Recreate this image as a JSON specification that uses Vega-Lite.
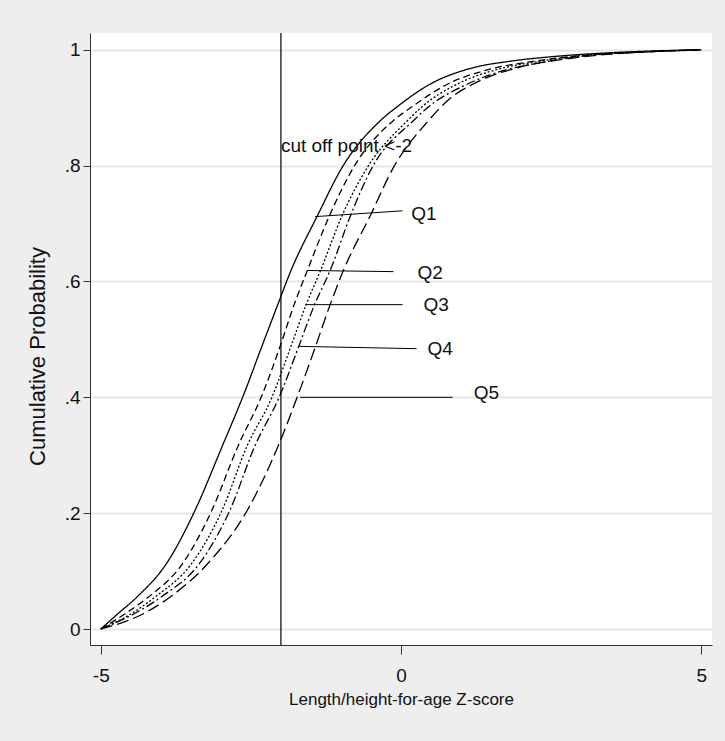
{
  "$schema": "https://vega.github.io/schema/vega-lite/v6.json",
  "width": 622,
  "height": 612,
  "autosize": {"type": "none"},
  "padding": {"left": 90, "top": 33, "right": 13, "bottom": 96},
  "background": "#eeeeee",
  "config": {
    "view": {"fill": "white", "stroke": null},
    "font": "Liberation Sans, Arial",
    "axis": {
      "domainColor": "#333333",
      "tickColor": "#333333",
      "labelColor": "#111111",
      "titleColor": "#111111",
      "labelFont": "Liberation Sans, Arial",
      "titleFont": "Liberation Sans, Arial",
      "labelFontSize": 19,
      "titleFontSize": 17,
      "titleFontWeight": "normal"
    }
  },
  "datasets": {
    "curves": [
      {"q": "Q1", "z": -5.0, "p": 0.0},
      {"q": "Q1", "z": -4.72, "p": 0.026},
      {"q": "Q1", "z": -4.4, "p": 0.055},
      {"q": "Q1", "z": -3.9, "p": 0.114},
      {"q": "Q1", "z": -3.43, "p": 0.205},
      {"q": "Q1", "z": -2.98, "p": 0.315},
      {"q": "Q1", "z": -2.6, "p": 0.41},
      {"q": "Q1", "z": -2.35, "p": 0.479},
      {"q": "Q1", "z": -2.06, "p": 0.558},
      {"q": "Q1", "z": -1.84, "p": 0.617},
      {"q": "Q1", "z": -1.39, "p": 0.714},
      {"q": "Q1", "z": -0.98, "p": 0.797},
      {"q": "Q1", "z": -0.34, "p": 0.878},
      {"q": "Q1", "z": -0.06, "p": 0.902},
      {"q": "Q1", "z": 0.49, "p": 0.941},
      {"q": "Q1", "z": 1.16, "p": 0.968},
      {"q": "Q1", "z": 1.8, "p": 0.98},
      {"q": "Q1", "z": 2.5, "p": 0.988},
      {"q": "Q1", "z": 3.5, "p": 0.995},
      {"q": "Q1", "z": 5.0, "p": 1.0},

      {"q": "Q2", "z": -5.0, "p": 0.0},
      {"q": "Q2", "z": -4.6, "p": 0.026},
      {"q": "Q2", "z": -4.21, "p": 0.055},
      {"q": "Q2", "z": -3.63, "p": 0.114},
      {"q": "Q2", "z": -3.15, "p": 0.205},
      {"q": "Q2", "z": -2.71, "p": 0.317},
      {"q": "Q2", "z": -2.33, "p": 0.4},
      {"q": "Q2", "z": -2.02, "p": 0.486},
      {"q": "Q2", "z": -1.78, "p": 0.56},
      {"q": "Q2", "z": -1.56, "p": 0.619},
      {"q": "Q2", "z": -1.19, "p": 0.714},
      {"q": "Q2", "z": -0.79, "p": 0.797},
      {"q": "Q2", "z": -0.125, "p": 0.878},
      {"q": "Q2", "z": 0.16, "p": 0.9},
      {"q": "Q2", "z": 0.78, "p": 0.941},
      {"q": "Q2", "z": 1.5, "p": 0.967},
      {"q": "Q2", "z": 2.2, "p": 0.98},
      {"q": "Q2", "z": 3.0, "p": 0.99},
      {"q": "Q2", "z": 4.0, "p": 0.996},
      {"q": "Q2", "z": 5.0, "p": 1.0},

      {"q": "Q3", "z": -5.0, "p": 0.0},
      {"q": "Q3", "z": -4.5, "p": 0.026},
      {"q": "Q3", "z": -4.1, "p": 0.055},
      {"q": "Q3", "z": -3.48, "p": 0.114},
      {"q": "Q3", "z": -2.98, "p": 0.205},
      {"q": "Q3", "z": -2.56, "p": 0.317},
      {"q": "Q3", "z": -2.15, "p": 0.4},
      {"q": "Q3", "z": -1.84, "p": 0.486},
      {"q": "Q3", "z": -1.58, "p": 0.56},
      {"q": "Q3", "z": -1.34, "p": 0.619},
      {"q": "Q3", "z": -0.98, "p": 0.714},
      {"q": "Q3", "z": -0.56, "p": 0.797},
      {"q": "Q3", "z": 0.11, "p": 0.878},
      {"q": "Q3", "z": 0.33, "p": 0.9},
      {"q": "Q3", "z": 0.94, "p": 0.941},
      {"q": "Q3", "z": 1.6, "p": 0.966},
      {"q": "Q3", "z": 2.3, "p": 0.98},
      {"q": "Q3", "z": 3.0, "p": 0.99},
      {"q": "Q3", "z": 4.0, "p": 0.996},
      {"q": "Q3", "z": 5.0, "p": 1.0},

      {"q": "Q4", "z": -5.0, "p": 0.0},
      {"q": "Q4", "z": -4.45, "p": 0.026},
      {"q": "Q4", "z": -4.0, "p": 0.055},
      {"q": "Q4", "z": -3.35, "p": 0.114},
      {"q": "Q4", "z": -2.85, "p": 0.205},
      {"q": "Q4", "z": -2.43, "p": 0.317},
      {"q": "Q4", "z": -2.03, "p": 0.4},
      {"q": "Q4", "z": -1.71, "p": 0.486},
      {"q": "Q4", "z": -1.44, "p": 0.56},
      {"q": "Q4", "z": -1.18, "p": 0.619},
      {"q": "Q4", "z": -0.84, "p": 0.714},
      {"q": "Q4", "z": -0.48, "p": 0.797},
      {"q": "Q4", "z": 0.21, "p": 0.878},
      {"q": "Q4", "z": 0.44, "p": 0.9},
      {"q": "Q4", "z": 1.11, "p": 0.941},
      {"q": "Q4", "z": 1.7, "p": 0.964},
      {"q": "Q4", "z": 2.4, "p": 0.979},
      {"q": "Q4", "z": 3.1, "p": 0.99},
      {"q": "Q4", "z": 4.0, "p": 0.996},
      {"q": "Q4", "z": 5.0, "p": 1.0},

      {"q": "Q5", "z": -5.0, "p": 0.0},
      {"q": "Q5", "z": -4.3, "p": 0.026},
      {"q": "Q5", "z": -3.85, "p": 0.055},
      {"q": "Q5", "z": -3.21, "p": 0.114},
      {"q": "Q5", "z": -2.56, "p": 0.205},
      {"q": "Q5", "z": -2.03, "p": 0.32},
      {"q": "Q5", "z": -1.73, "p": 0.4},
      {"q": "Q5", "z": -1.43, "p": 0.486},
      {"q": "Q5", "z": -1.18, "p": 0.56},
      {"q": "Q5", "z": -0.96, "p": 0.619},
      {"q": "Q5", "z": -0.51, "p": 0.714},
      {"q": "Q5", "z": -0.125, "p": 0.797},
      {"q": "Q5", "z": 0.46, "p": 0.878},
      {"q": "Q5", "z": 0.75, "p": 0.91},
      {"q": "Q5", "z": 1.28, "p": 0.945},
      {"q": "Q5", "z": 1.94, "p": 0.969},
      {"q": "Q5", "z": 2.8, "p": 0.985},
      {"q": "Q5", "z": 3.8, "p": 0.995},
      {"q": "Q5", "z": 5.0, "p": 1.0}
    ],
    "labels": [
      {"q": "Q1", "x0": -1.43, "y0": 0.712, "x1": 0.025, "y1": 0.722, "tx": 0.17, "ty": 0.716},
      {"q": "Q2", "x0": -1.56, "y0": 0.619, "x1": -0.125, "y1": 0.617, "tx": 0.275, "ty": 0.614},
      {"q": "Q3", "x0": -1.59, "y0": 0.56, "x1": 0.025, "y1": 0.56, "tx": 0.375, "ty": 0.559},
      {"q": "Q4", "x0": -1.71, "y0": 0.488, "x1": 0.26, "y1": 0.484, "tx": 0.44, "ty": 0.483},
      {"q": "Q5", "x0": -1.68, "y0": 0.4, "x1": 0.86, "y1": 0.4, "tx": 1.21, "ty": 0.407}
    ],
    "cutoff": [
      {"z": -2, "p": 0.834, "label": "cut off point <-2"}
    ]
  },
  "layer": [
    {
      "data": {"name": "curves"},
      "mark": {"type": "line", "color": "black", "strokeWidth": 1.3, "interpolate": "monotone"},
      "encoding": {
        "x": {
          "field": "z", "type": "quantitative",
          "scale": {"domain": [-5.18, 5.18], "nice": false, "zero": false},
          "axis": {"values": [-5, 0, 5], "labelExpr": "'' + datum.value", "grid": false, "tickSize": 9, "labelPadding": 12, "title": "Length/height-for-age Z-score", "titlePadding": 6}
        },
        "y": {
          "field": "p", "type": "quantitative",
          "scale": {"domain": [-0.0276, 1.029], "nice": false, "zero": false},
          "axis": {
            "values": [0, 0.2, 0.4, 0.6, 0.8, 1],
            "labelExpr": "datum.value == 0 ? '0' : datum.value == 1 ? '1' : replace(format(datum.value, '.1f'), '0.', '.')",
            "grid": true, "gridColor": "#e6e6e6", "gridWidth": 2,
            "tickSize": 7, "labelPadding": 3,
            "title": "Cumulative Probability", "titleFontSize": 22,
            "titleX": -53, "titleY": 323, "titleAngle": -90, "titleAlign": "center", "titleBaseline": "middle"
          }
        },
        "strokeDash": {
          "field": "q", "type": "nominal",
          "scale": {"domain": ["Q1", "Q2", "Q3", "Q4", "Q5"], "range": [[1, 0], [7, 4], [2, 2], [9, 3, 2, 3], [12, 5]]},
          "legend": null
        }
      }
    },
    {
      "data": {"name": "cutoff"},
      "mark": {"type": "rule", "color": "black", "strokeWidth": 1.2},
      "encoding": {"x": {"field": "z", "type": "quantitative"}}
    },
    {
      "data": {"name": "cutoff"},
      "mark": {"type": "text", "align": "left", "baseline": "middle", "fontSize": 19, "color": "#111111"},
      "encoding": {
        "x": {"field": "z", "type": "quantitative"},
        "y": {"field": "p", "type": "quantitative"},
        "text": {"field": "label"}
      }
    },
    {
      "data": {"name": "labels"},
      "mark": {"type": "rule", "color": "black", "strokeWidth": 1},
      "encoding": {
        "x": {"field": "x0", "type": "quantitative"},
        "x2": {"field": "x1"},
        "y": {"field": "y0", "type": "quantitative"},
        "y2": {"field": "y1"}
      }
    },
    {
      "data": {"name": "labels"},
      "mark": {"type": "text", "align": "left", "baseline": "middle", "fontSize": 19, "color": "#111111"},
      "encoding": {
        "x": {"field": "tx", "type": "quantitative"},
        "y": {"field": "ty", "type": "quantitative"},
        "text": {"field": "q"}
      }
    }
  ]
}
